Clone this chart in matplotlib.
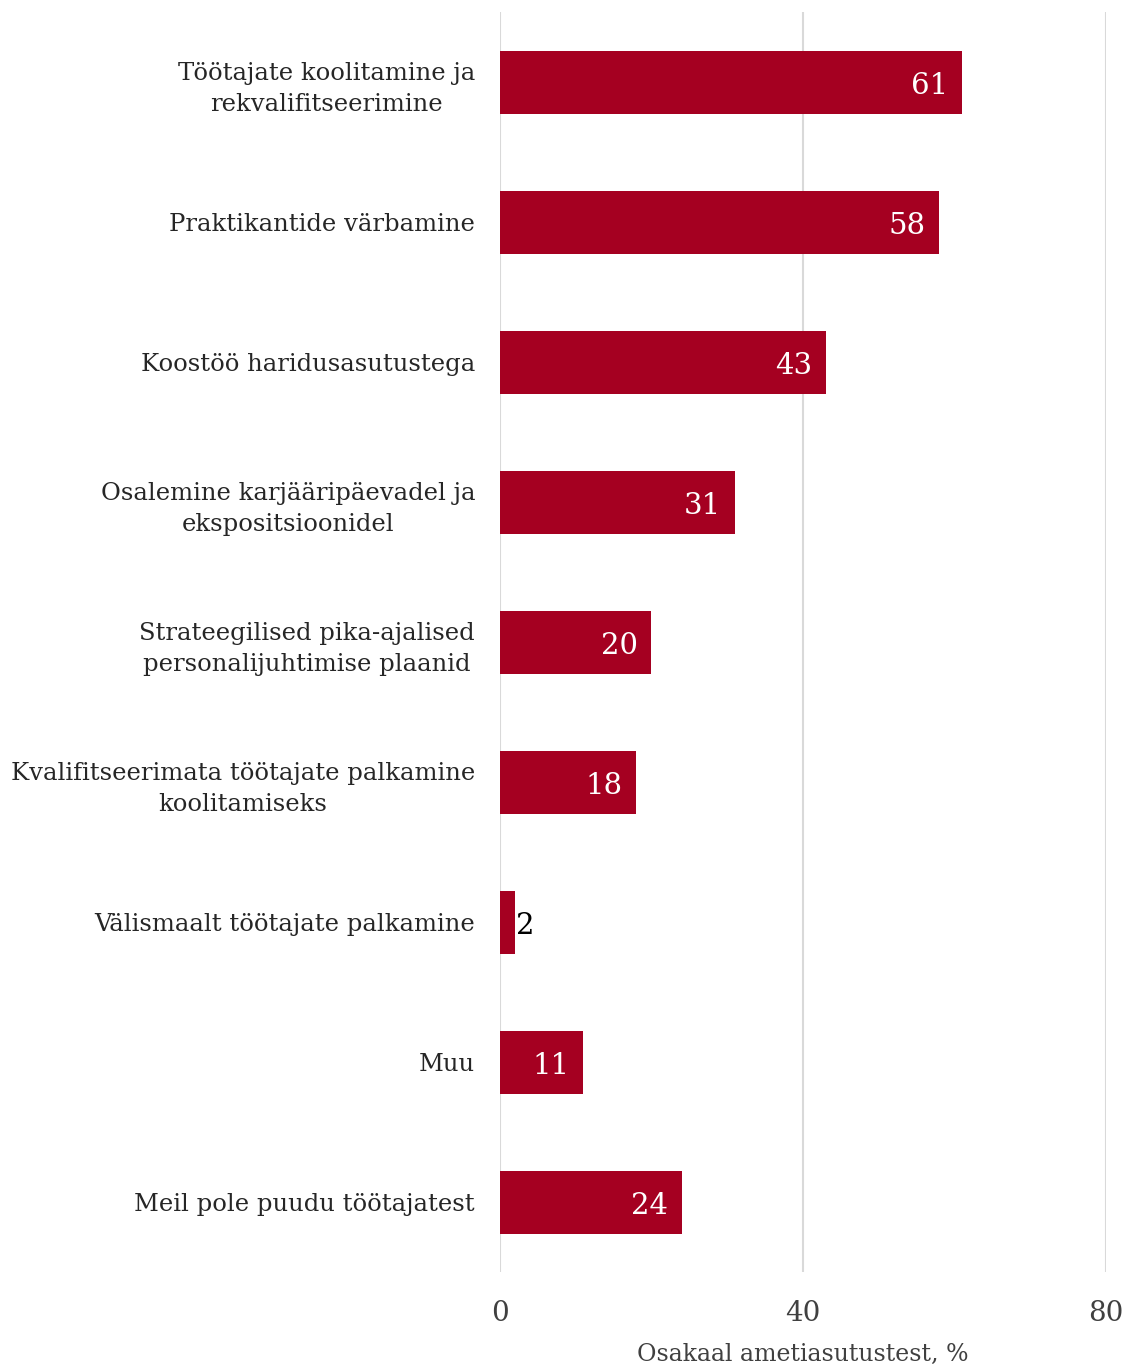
import matplotlib
matplotlib.use("Agg")
import matplotlib.pyplot as plt
from matplotlib.transforms import ScaledTranslation

categories = [
    "Töötajate koolitamine ja\nrekvalifitseerimine",
    "Praktikantide värbamine",
    "Koostöö haridusasutustega",
    "Osalemine karjääripäevadel ja\nekspositsioonidel",
    "Strateegilised pika-ajalised\npersonalijuhtimise plaanid",
    "Kvalifitseerimata töötajate palkamine\nkoolitamiseks",
    "Välismaalt töötajate palkamine",
    "Muu",
    "Meil pole puudu töötajatest",
]
values = [61, 58, 43, 31, 20, 18, 2, 11, 24]
xticks = [0, 40, 80]

plt.rcParams['font.family'] = ['DejaVu Serif']

fig = plt.figure(figsize=(11.32, 13.67), dpi=100)
ax = fig.add_axes([0.4417, 0.0695, 0.5353, 0.9215])

bar_color = "#A50021"
ypos = list(range(len(categories)))
ax.barh(ypos, values, height=0.45, color=bar_color, zorder=3)

for y, v in zip(ypos, values):
    if v >= 5:
        ax.text(v - 1.8, y + 0.03, str(v), ha="right", va="center",
                color="white", fontsize=21, zorder=4)
    else:
        ax.text(v + 0.1, y + 0.03, str(v), ha="left", va="center",
                color="black", fontsize=21, zorder=4)

ax.set_ylim(len(categories) - 0.5, -0.5)
ax.set_xlim(0, 80)
ax.set_yticks(ypos)
ax.set_yticklabels(categories, fontsize=17.5, color="#262626",
                   linespacing=1.45, multialignment="center")
# nudge the two-line labels up a little
for lbl in ax.get_yticklabels():
    if "\n" in lbl.get_text():
        lbl.set_transform(lbl.get_transform() +
                          ScaledTranslation(0, 0.05, fig.dpi_scale_trans))
ax.set_xticks(xticks)
ax.set_xticklabels([str(t) for t in xticks], fontsize=20, color="#404040")
ax.tick_params(axis="y", length=0, pad=18)
ax.tick_params(axis="x", length=0, pad=20)
ax.xaxis.grid(True, color="#d9d9d9", linewidth=1.5, zorder=0)
for s in ax.spines.values():
    s.set_visible(False)
ax.set_xlabel("Osakaal ametiasutustest, %", fontsize=17, color="#404040")
ax.xaxis.set_label_coords(0.5, -0.056)

fig.savefig("out.png", dpi=100)
